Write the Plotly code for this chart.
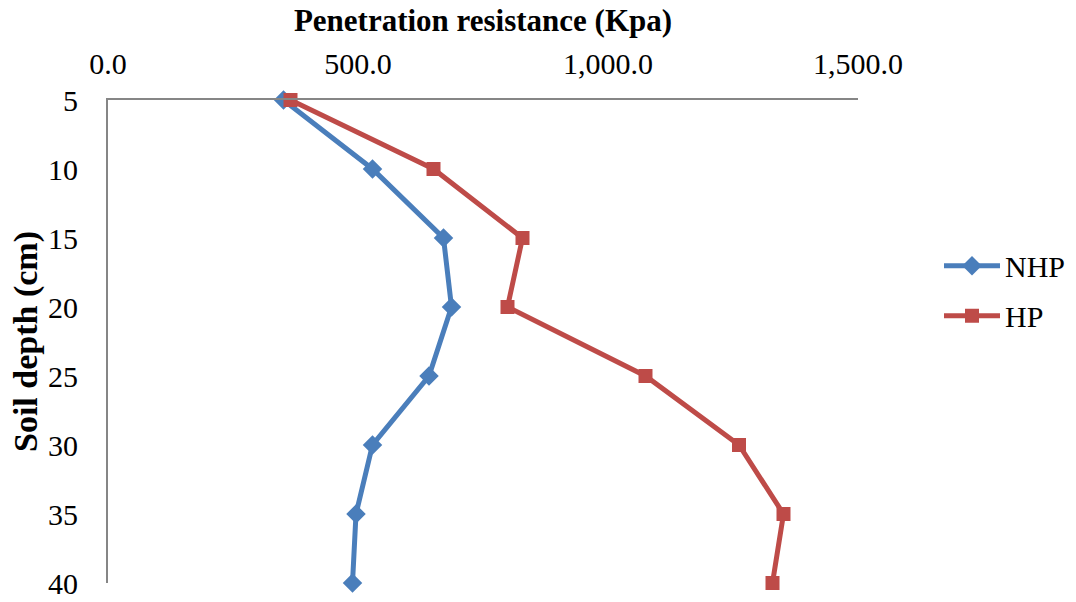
import plotly.graph_objects as go

depth = [5, 10, 15, 20, 25, 30, 35, 40]
nhp = [351, 529, 671, 687, 642, 529, 496, 489]
hp = [365, 651, 829, 799, 1075, 1262, 1351, 1329]

FONT = '"Liberation Serif", "Times New Roman", serif'

fig = go.Figure()
fig.add_trace(go.Scatter(
    x=nhp, y=depth, name="NHP", mode="lines+markers", legendgroup="a",
    line=dict(color="#4A7EBB", width=5),
    marker=dict(symbol="diamond", size=15, color="#4A7EBB"),
    cliponaxis=False))
fig.add_trace(go.Scatter(
    x=hp, y=depth, name="HP", mode="lines+markers", legendgroup="b",
    line=dict(color="#BE4B48", width=5),
    marker=dict(symbol="square", size=14, color="#BE4B48"),
    cliponaxis=False))

fig.update_layout(
    width=1076, height=602,
    margin=dict(l=108, r=218, t=100, b=19, autoexpand=False),
    paper_bgcolor="white", plot_bgcolor="white",
    font=dict(family=FONT, size=30, color="black"),
    showlegend=True,
    legend=dict(x=1.108, y=0.605, xanchor="left", yanchor="middle",
                font=dict(family=FONT, size=30),
                itemwidth=56, tracegroupgap=8,
                bgcolor="rgba(0,0,0,0)"),
    xaxis=dict(
        side="top", range=[0, 1500], tickvals=[0, 500, 1000, 1500],
        tickformat=",.1f", showgrid=False, zeroline=False,
        showline=True, linecolor="#868686", linewidth=2,
        ticks="", ticklabelstandoff=12, automargin=False,
        tickfont=dict(family=FONT, size=30),
        title=dict(text="<b>Penetration resistance (Kpa)</b>",
                   font=dict(family=FONT, size=31), standoff=6)),
    yaxis=dict(
        range=[40, 5], tickvals=depth, showgrid=False, zeroline=False,
        showline=True, linecolor="#868686", linewidth=2,
        ticks="", ticklabelstandoff=22, automargin=False,
        tickfont=dict(family=FONT, size=30),
        title=dict(text="<b>Soil depth (cm)</b>",
                   font=dict(family=FONT, size=34), standoff=0)),
)

fig.write_html("out.html")
